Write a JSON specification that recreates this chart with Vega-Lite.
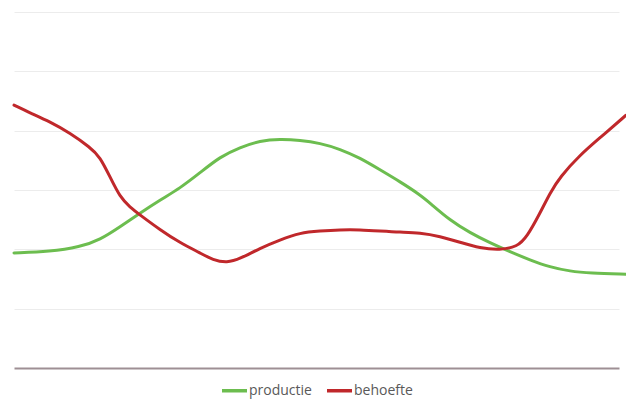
{
  "$schema": "https://vega.github.io/schema/vega-lite/v6.json",
  "width": 605,
  "height": 356,
  "autosize": {"type": "none"},
  "padding": {"left": 14, "top": 12, "right": 7, "bottom": 31},
  "background": "white",
  "config": {"view": {"stroke": null}},
  "data": {
    "values": [
      {"t": 0, "v": 19.4, "serie": "productie"},
      {"t": 36, "v": 19.6, "serie": "productie"},
      {"t": 66, "v": 20.4, "serie": "productie"},
      {"t": 86, "v": 21.6, "serie": "productie"},
      {"t": 106, "v": 23.8, "serie": "productie"},
      {"t": 126, "v": 26.1, "serie": "productie"},
      {"t": 146, "v": 28.3, "serie": "productie"},
      {"t": 166, "v": 30.3, "serie": "productie"},
      {"t": 186, "v": 32.9, "serie": "productie"},
      {"t": 206, "v": 35.6, "serie": "productie"},
      {"t": 226, "v": 37.2, "serie": "productie"},
      {"t": 246, "v": 38.3, "serie": "productie"},
      {"t": 266, "v": 38.6, "serie": "productie"},
      {"t": 286, "v": 38.4, "serie": "productie"},
      {"t": 306, "v": 37.9, "serie": "productie"},
      {"t": 326, "v": 36.9, "serie": "productie"},
      {"t": 346, "v": 35.4, "serie": "productie"},
      {"t": 366, "v": 33.4, "serie": "productie"},
      {"t": 386, "v": 31.4, "serie": "productie"},
      {"t": 406, "v": 29.2, "serie": "productie"},
      {"t": 416, "v": 27.8, "serie": "productie"},
      {"t": 436, "v": 24.9, "serie": "productie"},
      {"t": 456, "v": 22.8, "serie": "productie"},
      {"t": 476, "v": 21.1, "serie": "productie"},
      {"t": 496, "v": 19.6, "serie": "productie"},
      {"t": 516, "v": 18.2, "serie": "productie"},
      {"t": 536, "v": 17.0, "serie": "productie"},
      {"t": 556, "v": 16.3, "serie": "productie"},
      {"t": 576, "v": 16.0, "serie": "productie"},
      {"t": 612, "v": 15.8, "serie": "productie"},
      {"t": 0, "v": 44.3, "serie": "behoefte"},
      {"t": 16, "v": 43.0, "serie": "behoefte"},
      {"t": 36, "v": 41.5, "serie": "behoefte"},
      {"t": 56, "v": 39.6, "serie": "behoefte"},
      {"t": 76, "v": 37.2, "serie": "behoefte"},
      {"t": 86, "v": 35.6, "serie": "behoefte"},
      {"t": 96, "v": 32.2, "serie": "behoefte"},
      {"t": 106, "v": 28.8, "serie": "behoefte"},
      {"t": 116, "v": 27.1, "serie": "behoefte"},
      {"t": 126, "v": 25.8, "serie": "behoefte"},
      {"t": 146, "v": 23.3, "serie": "behoefte"},
      {"t": 166, "v": 21.1, "serie": "behoefte"},
      {"t": 186, "v": 19.4, "serie": "behoefte"},
      {"t": 199, "v": 18.2, "serie": "behoefte"},
      {"t": 213, "v": 17.7, "serie": "behoefte"},
      {"t": 226, "v": 18.4, "serie": "behoefte"},
      {"t": 246, "v": 20.2, "serie": "behoefte"},
      {"t": 266, "v": 21.6, "serie": "behoefte"},
      {"t": 286, "v": 22.8, "serie": "behoefte"},
      {"t": 306, "v": 23.1, "serie": "behoefte"},
      {"t": 326, "v": 23.3, "serie": "behoefte"},
      {"t": 346, "v": 23.3, "serie": "behoefte"},
      {"t": 366, "v": 23.1, "serie": "behoefte"},
      {"t": 386, "v": 22.9, "serie": "behoefte"},
      {"t": 406, "v": 22.8, "serie": "behoefte"},
      {"t": 426, "v": 22.2, "serie": "behoefte"},
      {"t": 446, "v": 21.2, "serie": "behoefte"},
      {"t": 466, "v": 20.2, "serie": "behoefte"},
      {"t": 486, "v": 19.9, "serie": "behoefte"},
      {"t": 503, "v": 20.4, "serie": "behoefte"},
      {"t": 513, "v": 22.1, "serie": "behoefte"},
      {"t": 526, "v": 26.1, "serie": "behoefte"},
      {"t": 536, "v": 29.5, "serie": "behoefte"},
      {"t": 546, "v": 32.2, "serie": "behoefte"},
      {"t": 566, "v": 35.9, "serie": "behoefte"},
      {"t": 586, "v": 38.8, "serie": "behoefte"},
      {"t": 612, "v": 42.6, "serie": "behoefte"}
    ]
  },
  "mark": {"type": "line", "interpolate": "basis", "strokeWidth": 3, "strokeCap": "round"},
  "encoding": {
    "x": {
      "field": "t",
      "type": "quantitative",
      "scale": {"domain": [0, 605], "nice": false, "zero": false},
      "axis": {"title": null, "labels": false, "ticks": false, "grid": false, "domainColor": "#9e8f94", "domainWidth": 2}
    },
    "y": {
      "field": "v",
      "type": "quantitative",
      "scale": {"domain": [0, 60], "nice": false},
      "axis": {"title": null, "labels": false, "ticks": false, "domain": false, "values": [10, 20, 30, 40, 50, 60], "gridColor": "#ececec", "gridWidth": 1}
    },
    "color": {
      "field": "serie",
      "type": "nominal",
      "sort": ["productie", "behoefte"],
      "scale": {"domain": ["productie", "behoefte"], "range": ["#6cbd4f", "#c0282b"]},
      "legend": {
        "title": null,
        "orient": "none",
        "direction": "horizontal",
        "legendX": 206,
        "legendY": 364,
        "padding": 0,
        "symbolType": "stroke",
        "symbolSize": 625,
        "symbolStrokeWidth": 3.5,
        "labelFont": "Open Sans",
        "labelFontSize": 14,
        "labelColor": "#595959",
        "labelOffset": 0,
        "columnPadding": 8
      }
    }
  }
}
